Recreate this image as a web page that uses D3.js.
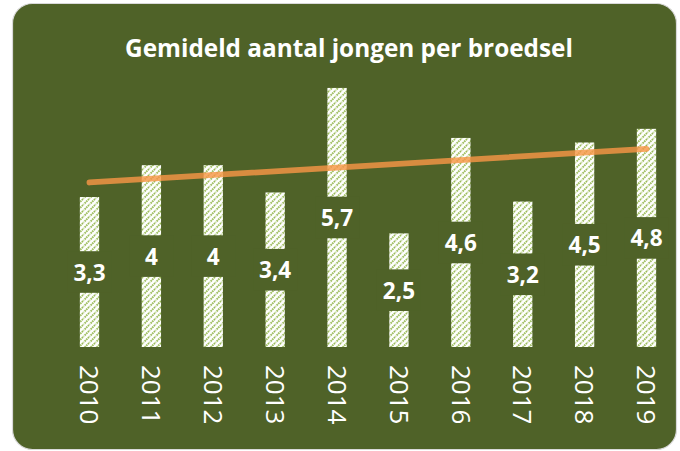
<!DOCTYPE html>
<html>
<head>
<meta charset="utf-8">
<script src="https://cdn.jsdelivr.net/npm/d3@7"></script>
<style>
  html, body { margin: 0; padding: 0; background: #ffffff; }
  svg { display: block; }
</style>
</head>
<body>
<script>
// ---- data ----
const title = "Gemideld aantal jongen per broedsel";
const years = ["2010","2011","2012","2013","2014","2015","2016","2017","2018","2019"];
const values = [3.3, 4, 4, 3.4, 5.7, 2.5, 4.6, 3.2, 4.5, 4.8];
const trendEnds = [3.62, 4.36]; // linear trendline value at first and last year

// ---- layout ----
const W = 680, H = 451;
const bg = "#4f6228";
const svg = d3.select("body").append("svg").attr("width", W).attr("height", H);

const defs = svg.append("defs");
const pat = defs.append("pattern")
  .attr("id", "hatch").attr("patternUnits", "userSpaceOnUse")
  .attr("width", 6).attr("height", 6);
pat.append("rect").attr("width", 6).attr("height", 6).attr("fill", "#ffffff");
pat.append("path")
  .attr("d", "M-1,7 L7,-1 M-3,3 L3,-3 M3,9 L9,3")
  .attr("stroke", "#9bbb59").attr("stroke-width", 1.8)
  .attr("stroke-dasharray", "1.6,0.7");

svg.append("rect")
  .attr("x", 12.5).attr("y", 3.5).attr("width", 664).attr("height", 446)
  .attr("rx", 20).attr("ry", 20)
  .attr("fill", bg).attr("stroke", "#d9d9d9").attr("stroke-width", 1.2);

const x = d3.scaleBand().domain(years).range([58.55, 677.45])
  .paddingInner(0.688).paddingOuter(0.344);
const y = d3.scaleLinear().domain([0, 6]).range([347, 74.3]);

// title
const t = svg.append("text")
  .attr("x", 349).attr("y", 57)
  .attr("text-anchor", "middle")
  .attr("font-family", "'Open Sans', sans-serif")
  .attr("font-weight", "bold")
  .attr("font-size", 25)
  .attr("fill", "#ffffff")
  .text(title);
const tw = t.node().getComputedTextLength();
t.attr("font-size", 25 * 448 / tw);

// bars
const g = svg.append("g");
g.selectAll("rect.bar").data(values).join("rect")
  .attr("class", "bar")
  .attr("x", (d, i) => x(years[i]))
  .attr("width", x.bandwidth())
  .attr("y", d => y(d))
  .attr("height", d => y(0) - y(d))
  .attr("fill", "url(#hatch)");

// label boxes
g.selectAll("rect.lbox").data(values).join("rect")
  .attr("class", "lbox")
  .attr("x", (d, i) => x(years[i]) + x.bandwidth() / 2 - 22)
  .attr("width", 44)
  .attr("y", d => (y(d) + y(0)) / 2 - 20.8)
  .attr("height", 41.6)
  .attr("fill", bg);

// label text
g.selectAll("text.lbl").data(values).join("text")
  .attr("class", "lbl")
  .attr("x", (d, i) => x(years[i]) + x.bandwidth() / 2)
  .attr("y", d => (y(d) + y(0)) / 2 + 8.5)
  .attr("text-anchor", "middle")
  .attr("font-family", "'Open Sans', sans-serif")
  .attr("font-weight", "bold")
  .attr("font-size", 22.5)
  .attr("fill", "#ffffff")
  .text(d => String(d).replace(".", ","));

// category labels (rotated)
g.selectAll("text.cat").data(years).join("text")
  .attr("class", "cat")
  .attr("transform", d => `translate(${x(d) + x.bandwidth() / 2},365) rotate(90)`)
  .attr("x", 0).attr("y", 9.3)
  .attr("text-anchor", "start")
  .attr("font-family", "'Open Sans', sans-serif")
  .attr("font-size", 26)
  .attr("fill", "#ffffff")
  .text(d => d);

// trendline
const trend = [
  { year: years[0], v: trendEnds[0] },
  { year: years[years.length - 1], v: trendEnds[1] }
];
svg.append("path")
  .datum(trend)
  .attr("d", d3.line().x(d => x(d.year) + x.bandwidth() / 2).y(d => y(d.v)))
  .attr("fill", "none")
  .attr("stroke", "#f79646")
  .attr("stroke-opacity", 0.82)
  .attr("stroke-width", 5.8)
  .attr("stroke-linecap", "round");
</script>
</body>
</html>
